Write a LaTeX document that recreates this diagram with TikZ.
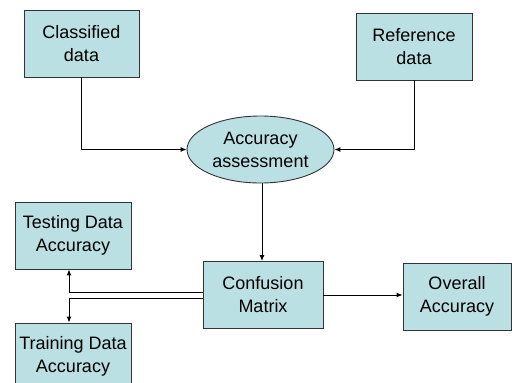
\documentclass[tikz,border=0pt]{standalone}
\usepackage{fontspec}
\setmainfont{Liberation Sans}
\usetikzlibrary{shapes.geometric,arrows.meta}
\definecolor{boxfill}{RGB}{187,224,227}
\tikzset{
  box/.style={draw=black!80, line width=0.9pt, fill=boxfill, rectangle, align=center,
    inner sep=0pt, font=\fontsize{18}{23}\selectfont},
  oval/.style={box, ellipse},
  conn/.style={line width=1pt, -{Latex[length=6pt,width=5pt]}}
}
\begin{document}
\begin{tikzpicture}[x=1pt,y=-1pt]
\useasboundingbox (0,0) rectangle (512,383);
\node[box, minimum width=115pt, minimum height=67pt] (cls) at (81.5,43.5) {Classified\\data};
\node[box, minimum width=116pt, minimum height=67pt] (ref) at (414,46.5) {Reference\\data};
\node[oval, minimum width=147pt, minimum height=67pt] (acc) at (260.5,149.5) {Accuracy\\assessment};
\node[box, minimum width=116pt, minimum height=67pt] (test) at (73,235.5) {Testing Data\\Accuracy};
\node[box, minimum width=116pt, minimum height=67pt] (train) at (73,356.5) {Training Data\\Accuracy};
\node[box, minimum width=120pt, minimum height=67pt] (conf) at (263,295) {Confusion\\Matrix};
\node[box, minimum width=108pt, minimum height=67pt] (over) at (457,296.5) {Overall\\Accuracy};
\draw[conn] (cls.south) |- (acc.west);
\draw[conn] (ref.south) |- (acc.east);
\draw[conn] ([xshift=1.5pt]acc.south) -- ([xshift=1.5pt]acc.south |- conf.north);
\draw[conn] ([yshift=3pt]conf.west) -| ([xshift=-4pt]test.south);
\draw[conn] ([yshift=-3pt]conf.west) -| ([xshift=-4pt]train.north);
\draw[conn] (conf.east) -- (conf.east -| over.west);
\end{tikzpicture}
\end{document}
